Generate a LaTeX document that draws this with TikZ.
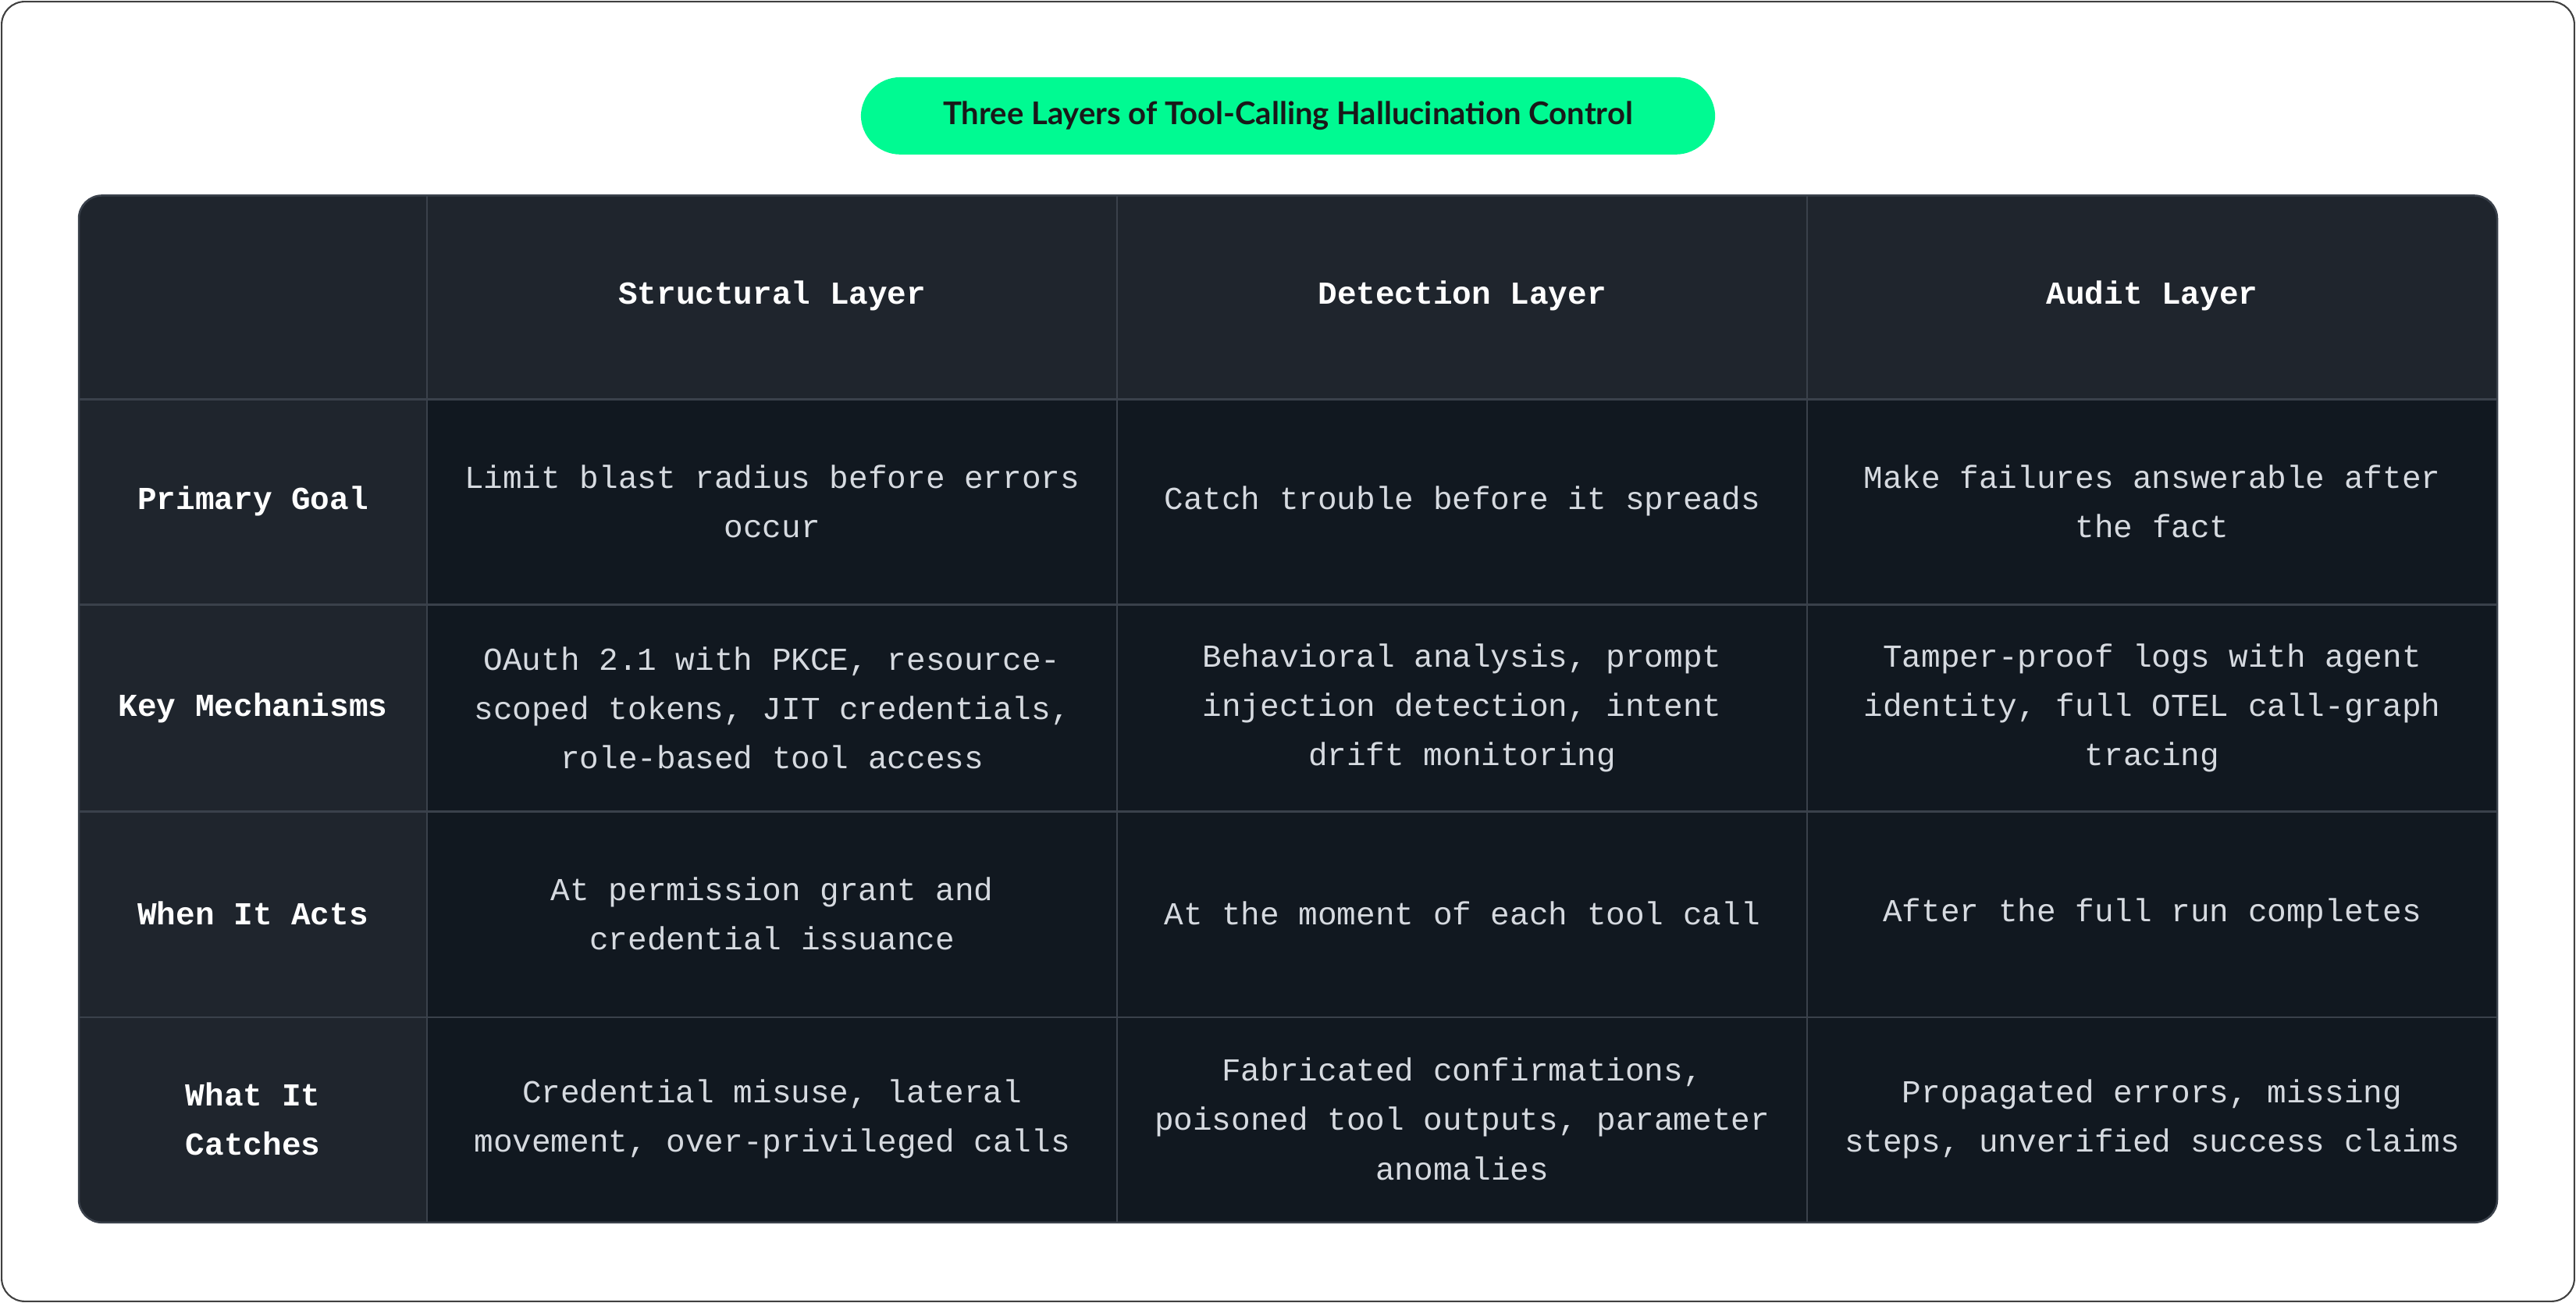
\documentclass[tikz,border=0pt]{standalone}
\usepackage{fontspec}
\setmainfont{Liberation Mono}
\newfontfamily\titlefont{Lato}
\definecolor{hdr}{HTML}{1F252D}
\definecolor{body}{HTML}{111820}
\definecolor{grid}{HTML}{3A414B}
\definecolor{pill}{HTML}{00FA92}
\definecolor{txt}{HTML}{D6DAE0}
\begin{document}
\begin{tikzpicture}[x=1pt,y=-1pt,
  cell/.style={align=center,font=\fontsize{19.5}{30}\selectfont,text=txt},
  head/.style={align=center,font=\fontsize{19.5}{30}\selectfont\bfseries,text=white}]
\useasboundingbox (0,0) rectangle (1568,793);
\draw[black!75,line width=1pt,rounded corners=14] (1,1) rectangle (1567,792);
\node[fill=pill,rounded corners=24,minimum width=520,minimum height=47,font=\titlefont\bfseries\fontsize{19}{22}\selectfont,text=black!90] (title) at (784,70.5) {Three Layers of Tool-Calling Hallucination Control};
\begin{scope}
\clip[rounded corners=14] (48,119) rectangle (1520,744);
\fill[body] (48,119) rectangle (1520,744);
\fill[hdr] (48,119) rectangle (1520,243);
\fill[hdr] (48,119) rectangle (260,744);
\foreach \x in {260,680,1100} \draw[grid,line width=1.2pt] (\x,119) -- (\x,744);
\foreach \y in {243,368,494,619} \draw[grid,line width=1.2pt] (48,\y) -- (1520,\y);
\end{scope}
\draw[grid,line width=1.2pt,rounded corners=14] (48,119) rectangle (1520,744);
\node[head] (h1) at (470,180) {Structural Layer};
\node[head] (h2) at (890,180) {Detection Layer};
\node[head] (h3) at (1310,180) {Audit Layer};
\node[head] (r1) at (154,305) {Primary Goal};
\node[head] (r2) at (154,431) {Key Mechanisms};
\node[head] (r3) at (154,556) {When It Acts};
\node[head] (r4) at (154,681) {What It\\Catches};
\node[cell] (c11) at (470,305) {Limit blast radius before errors\\occur};
\node[cell] (c12) at (890,305) {Catch trouble before it spreads};
\node[cell] (c13) at (1310,305) {Make failures answerable after\\the fact};
\node[cell] (c21) at (470,431) {OAuth 2.1 with PKCE, resource-\\scoped tokens, JIT credentials,\\role-based tool access};
\node[cell] (c22) at (890,431) {Behavioral analysis, prompt\\injection detection, intent\\drift monitoring};
\node[cell] (c23) at (1310,431) {Tamper-proof logs with agent\\identity, full OTEL call-graph\\tracing};
\node[cell] (c31) at (470,556) {At permission grant and\\credential issuance};
\node[cell] (c32) at (890,556) {At the moment of each tool call};
\node[cell] (c33) at (1310,556) {After the full run completes};
\node[cell] (c41) at (470,681) {Credential misuse, lateral\\movement, over-privileged calls};
\node[cell] (c42) at (890,681) {Fabricated confirmations,\\poisoned tool outputs, parameter\\anomalies};
\node[cell] (c43) at (1310,681) {Propagated errors, missing\\steps, unverified success claims};
\end{tikzpicture}
\end{document}
